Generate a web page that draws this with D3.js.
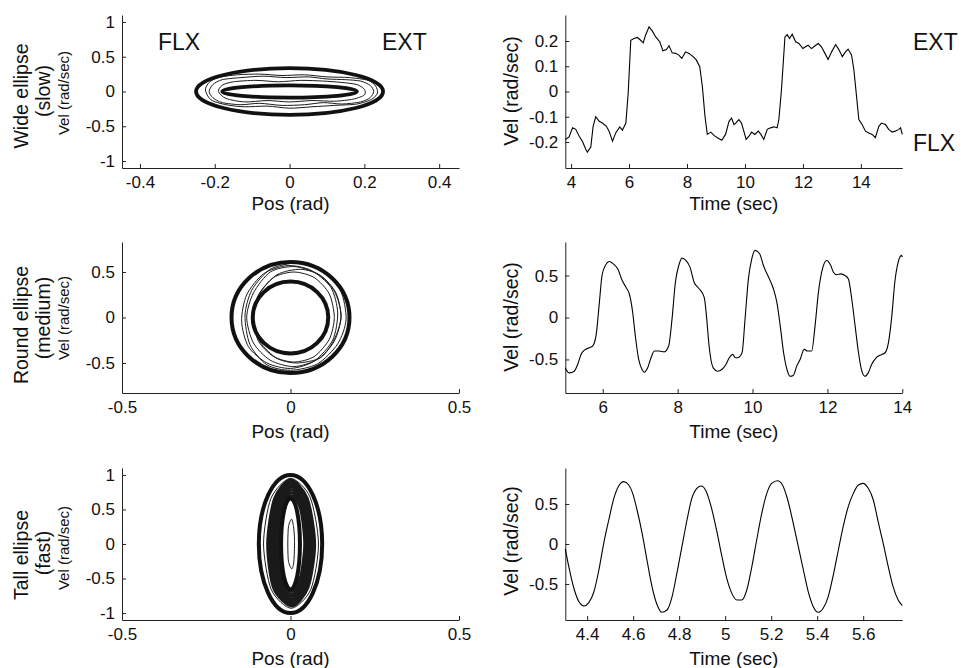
<!DOCTYPE html>
<html>
<head>
<meta charset="utf-8">
<script src="https://cdn.jsdelivr.net/npm/d3@7/dist/d3.min.js"></script>
<style>
  body { margin: 0; background: #fff; }
  text { font-family: "Liberation Sans", Arial, Helvetica, sans-serif; fill: #111; }
</style>
</head>
<body>
<div id="chart"></div>
<script>
// ---- data ----

// target ellipses (half-widths in pos, half-heights in vel)
var wideTargets  = [{rx: 0.25, ry: 0.335}, {rx: 0.18, ry: 0.088}];
var roundTargets = [{rx: 0.175, ry: 0.61}, {rx: 0.112, ry: 0.395}];
var tallTargets  = [{rx: 0.094, ry: 1.0}, {rx: 0.028, ry: 0.66}];

// recorded pos/vel loops
var wideLoops = [
  [[-0.215,0.0],[-0.205,0.1],[-0.18,0.17],[-0.13,0.2],[-0.07,0.22],[-0.01,0.2],[0.05,0.21],[0.1,0.18],[0.15,0.17],[0.19,0.15],[0.215,0.09],[0.225,0.0],[0.215,-0.09],[0.19,-0.15],[0.14,-0.18],[0.09,-0.16],[0.04,-0.19],[-0.02,-0.2],[-0.08,-0.17],[-0.13,-0.19],[-0.18,-0.16],[-0.205,-0.09]],
  [[-0.225,0.02],[-0.215,0.13],[-0.19,0.2],[-0.14,0.24],[-0.08,0.25],[-0.02,0.23],[0.04,0.24],[0.1,0.21],[0.16,0.2],[0.21,0.16],[0.23,0.08],[0.235,-0.02],[0.22,-0.11],[0.18,-0.18],[0.12,-0.2],[0.06,-0.22],[0.0,-0.24],[-0.06,-0.21],[-0.12,-0.22],[-0.17,-0.19],[-0.21,-0.12]],
  [[-0.19,0.0],[-0.18,0.09],[-0.15,0.14],[-0.09,0.16],[-0.03,0.14],[0.03,0.16],[0.09,0.15],[0.14,0.13],[0.18,0.1],[0.2,0.03],[0.2,-0.05],[0.17,-0.11],[0.12,-0.14],[0.06,-0.13],[0.0,-0.15],[-0.06,-0.13],[-0.12,-0.15],[-0.17,-0.1]]
];

var roundLoops = [
  [[0.15,0.02],[0.13,0.29],[0.08,0.48],[0.01,0.56],[-0.06,0.5],[-0.11,0.27],[-0.13,0.0],[-0.11,-0.28],[-0.06,-0.47],[0.01,-0.54],[0.08,-0.46],[0.13,-0.26]],
  [[0.165,-0.02],[0.148,0.3],[0.09,0.52],[0.02,0.6],[-0.06,0.53],[-0.115,0.3],[-0.135,0.02],[-0.12,-0.3],[-0.07,-0.52],[0.0,-0.58],[0.08,-0.51],[0.14,-0.29]],
  [[0.15,0.0],[0.135,0.27],[0.09,0.46],[0.03,0.53],[-0.04,0.47],[-0.095,0.25],[-0.11,-0.02],[-0.09,-0.27],[-0.04,-0.45],[0.02,-0.5],[0.09,-0.44],[0.13,-0.24]],
  [[0.14,0.05],[0.12,0.33],[0.06,0.52],[-0.01,0.57],[-0.08,0.48],[-0.13,0.25],[-0.145,-0.04],[-0.125,-0.32],[-0.07,-0.5],[0.0,-0.56],[0.07,-0.48],[0.125,-0.25]],
  [[0.13,0.0],[0.115,0.26],[0.07,0.44],[0.01,0.5],[-0.05,0.44],[-0.095,0.24],[-0.11,-0.01],[-0.095,-0.26],[-0.05,-0.43],[0.01,-0.49],[0.07,-0.43],[0.115,-0.24]]
];

var tallLoops = [
  [[0.072,0],[0.05,0.66],[0.0,0.93],[-0.048,0.65],[-0.068,0],[-0.05,-0.64],[0.004,-0.9],[0.052,-0.63]],
  [[0.068,0.02],[0.047,0.64],[0.002,0.9],[-0.044,0.62],[-0.062,-0.02],[-0.045,-0.62],[0.004,-0.87],[0.048,-0.6]],
  [[0.063,0],[0.044,0.62],[0.0,0.88],[-0.04,0.6],[-0.057,0],[-0.04,-0.6],[0.003,-0.85],[0.045,-0.6]],
  [[0.058,-0.02],[0.04,0.6],[0.002,0.85],[-0.036,0.58],[-0.052,0.02],[-0.036,-0.58],[0.004,-0.83],[0.042,-0.58]],
  [[0.054,0],[0.038,0.58],[0.003,0.82],[-0.032,0.56],[-0.046,0],[-0.033,-0.56],[0.004,-0.8],[0.038,-0.56]],
  [[0.05,0.01],[0.035,0.55],[0.003,0.78],[-0.028,0.54],[-0.04,0],[-0.028,-0.54],[0.004,-0.76],[0.036,-0.53]],
  [[0.046,0],[0.033,0.52],[0.003,0.74],[-0.024,0.51],[-0.035,0],[-0.024,-0.5],[0.004,-0.72],[0.033,-0.5]],
  [[0.042,0],[0.03,0.5],[0.003,0.7],[-0.02,0.48],[-0.03,0],[-0.02,-0.48],[0.005,-0.68],[0.03,-0.47]]
];
var tallOuterLoop = [[0.083,0],[0.058,0.68],[0.0,0.95],[-0.058,0.66],[-0.08,0],[-0.057,-0.66],[0.002,-0.93],[0.06,-0.66]];
var tallInnerLoop = [[0.012,0.05],[0.009,0.25],[0.003,0.36],[-0.006,0.25],[-0.008,0],[-0.006,-0.25],[0.004,-0.36],[0.01,-0.25]];

// velocity vs time [sec, rad/sec]
var slowTrace = [[3.8,-0.19],[3.93,-0.18],[4.05,-0.144],[4.16,-0.15],[4.28,-0.177],[4.39,-0.197],[4.51,-0.23],[4.56,-0.24],[4.68,-0.22],[4.76,-0.138],[4.85,-0.1],[4.97,-0.118],[5.08,-0.125],[5.22,-0.138],[5.31,-0.157],[5.43,-0.197],[5.54,-0.164],[5.68,-0.14],[5.77,-0.153],[5.89,-0.125],[5.97,-0.007],[6.06,0.203],[6.17,0.21],[6.29,0.214],[6.4,0.203],[6.49,0.193],[6.57,0.223],[6.69,0.256],[6.8,0.24],[6.92,0.216],[7.06,0.197],[7.17,0.161],[7.29,0.166],[7.38,0.181],[7.49,0.153],[7.61,0.151],[7.72,0.144],[7.82,0.131],[7.95,0.157],[8.07,0.151],[8.21,0.138],[8.32,0.125],[8.44,0.098],[8.53,0.02],[8.62,-0.098],[8.7,-0.17],[8.82,-0.161],[8.93,-0.174],[9.05,-0.183],[9.2,-0.193],[9.33,-0.17],[9.45,-0.118],[9.54,-0.105],[9.62,-0.131],[9.68,-0.125],[9.79,-0.111],[9.88,-0.125],[9.96,-0.157],[10.04,-0.19],[10.14,-0.177],[10.23,-0.161],[10.34,-0.17],[10.46,-0.157],[10.55,-0.17],[10.65,-0.19],[10.77,-0.15],[10.88,-0.144],[11.0,-0.14],[11.11,-0.144],[11.17,-0.111],[11.26,0.007],[11.38,0.216],[11.46,0.225],[11.54,0.21],[11.63,0.227],[11.75,0.197],[11.86,0.19],[12.0,0.17],[12.09,0.177],[12.18,0.183],[12.3,0.17],[12.41,0.18],[12.53,0.19],[12.64,0.177],[12.76,0.151],[12.87,0.127],[12.99,0.157],[13.13,0.186],[13.24,0.166],[13.36,0.138],[13.47,0.157],[13.56,0.168],[13.68,0.144],[13.76,0.085],[13.84,-0.007],[13.93,-0.111],[14.04,-0.131],[14.16,-0.157],[14.27,-0.164],[14.39,-0.17],[14.5,-0.183],[14.62,-0.138],[14.71,-0.125],[14.85,-0.131],[14.96,-0.15],[15.08,-0.161],[15.19,-0.157],[15.31,-0.15],[15.37,-0.144],[15.43,-0.17]];

var mediumTrace = [[5.0,-0.6],[5.02,-0.62],[5.11,-0.66],[5.24,-0.64],[5.33,-0.56],[5.42,-0.44],[5.51,-0.39],[5.64,-0.36],[5.73,-0.34],[5.82,-0.22],[5.91,0.18],[5.98,0.5],[6.07,0.62],[6.18,0.668],[6.28,0.64],[6.4,0.58],[6.52,0.44],[6.62,0.36],[6.71,0.28],[6.8,0.06],[6.87,-0.22],[6.96,-0.5],[7.05,-0.62],[7.11,-0.652],[7.2,-0.6],[7.29,-0.48],[7.38,-0.4],[7.51,-0.4],[7.64,-0.41],[7.76,-0.34],[7.85,-0.02],[7.94,0.42],[8.03,0.62],[8.12,0.708],[8.22,0.68],[8.33,0.6],[8.44,0.42],[8.58,0.34],[8.71,0.24],[8.77,0.02],[8.84,-0.34],[8.95,-0.6],[9.07,-0.64],[9.18,-0.62],[9.29,-0.56],[9.38,-0.48],[9.47,-0.44],[9.54,-0.48],[9.6,-0.48],[9.72,-0.42],[9.8,-0.02],[9.89,0.46],[9.98,0.7],[10.07,0.8],[10.19,0.76],[10.29,0.62],[10.43,0.48],[10.56,0.34],[10.65,0.18],[10.74,-0.1],[10.83,-0.42],[10.92,-0.62],[11.0,-0.7],[11.09,-0.69],[11.18,-0.58],[11.27,-0.5],[11.38,-0.38],[11.47,-0.4],[11.58,-0.4],[11.67,-0.1],[11.76,0.3],[11.88,0.6],[11.98,0.68],[12.09,0.62],[12.16,0.54],[12.25,0.51],[12.36,0.52],[12.47,0.5],[12.56,0.46],[12.65,0.22],[12.74,-0.1],[12.83,-0.42],[12.92,-0.64],[13.0,-0.7],[13.09,-0.66],[13.18,-0.56],[13.3,-0.48],[13.4,-0.45],[13.54,-0.42],[13.63,-0.3],[13.72,0.02],[13.8,0.42],[13.89,0.66],[13.98,0.74],[14.0,0.72]];

var fastTrace = [[4.305,-0.06],[4.32,-0.28],[4.342,-0.55],[4.364,-0.72],[4.386,-0.775],[4.407,-0.733],[4.429,-0.6],[4.451,-0.325],[4.472,0.008],[4.494,0.3],[4.516,0.57],[4.537,0.725],[4.559,0.78],[4.581,0.737],[4.598,0.633],[4.617,0.425],[4.639,0.133],[4.66,-0.2],[4.682,-0.533],[4.704,-0.76],[4.725,-0.854],[4.747,-0.825],[4.769,-0.66],[4.79,-0.367],[4.812,-0.033],[4.834,0.3],[4.855,0.57],[4.877,0.696],[4.896,0.725],[4.916,0.667],[4.939,0.467],[4.964,0.154],[4.986,-0.158],[5.007,-0.43],[5.029,-0.617],[5.051,-0.7],[5.072,-0.7],[5.094,-0.575],[5.116,-0.283],[5.137,0.05],[5.159,0.383],[5.181,0.633],[5.202,0.758],[5.228,0.79],[5.249,0.737],[5.272,0.55],[5.296,0.258],[5.318,-0.033],[5.34,-0.325],[5.361,-0.595],[5.383,-0.783],[5.405,-0.854],[5.426,-0.804],[5.448,-0.658],[5.47,-0.388],[5.492,-0.075],[5.513,0.217],[5.535,0.467],[5.557,0.633],[5.579,0.738],[5.6,0.758],[5.622,0.696],[5.644,0.55],[5.665,0.279],[5.687,0.008],[5.709,-0.283],[5.73,-0.533],[5.752,-0.7],[5.77,-0.77]];

// tick values
var wideXTicks = [-0.4, -0.2, 0, 0.2, 0.4];
var wideYTicks = [-1, -0.5, 0, 0.5, 1];
var halfXTicks = [-0.5, 0, 0.5];
var halfYTicks = [-0.5, 0, 0.5];
var slowYTicks = [-0.2, -0.1, 0, 0.1, 0.2];
var slowXTicks = [4, 6, 8, 10, 12, 14];
var mediumXTicks = [6, 8, 10, 12, 14];
var fastXTicks = [4.4, 4.6, 4.8, 5, 5.2, 5.4, 5.6];

// ---- layout ----
var svg = d3.select("#chart").append("svg")
    .attr("width", 963)
    .attr("height", 668);

var cols = [[122, 459], [565.3, 902.3]];
var rows = [[15, 168], [242, 393], [468, 620]];
var xLabelBase = [210, 438, 665];

function makePanel(col, row, xDom, yDom, xTicks, yTicks, xLabel) {
  var x = d3.scaleLinear().domain(xDom).range(cols[col]);
  var y = d3.scaleLinear().domain(yDom).range([rows[row][1], rows[row][0]]);
  var g = svg.append("g");
  var fmt = function(d) { return String(d); };

  var ax = g.append("g")
      .attr("transform", "translate(0," + rows[row][1] + ")")
      .call(d3.axisBottom(x).tickValues(xTicks).tickFormat(fmt)
        .tickSizeInner(-4).tickSizeOuter(0).tickPadding(8));
  var ay = g.append("g")
      .attr("transform", "translate(" + cols[col][0] + ",0)")
      .call(d3.axisLeft(y).tickValues(yTicks).tickFormat(fmt)
        .tickSizeInner(-4).tickSizeOuter(0).tickPadding(7));
  [ax, ay].forEach(function(a) {
    a.selectAll("path, line").attr("stroke", "#222").attr("stroke-width", 1);
    a.selectAll("text").style("font-size", "17px").attr("fill", "#111")
      .style("font-family", "'Liberation Sans', Arial, sans-serif");
  });

  g.append("text")
      .attr("x", (cols[col][0] + cols[col][1]) / 2)
      .attr("y", xLabelBase[row])
      .attr("text-anchor", "middle")
      .style("font-size", "19px")
      .text(xLabel);

  return {g: g, x: x, y: y};
}

function drawTargets(p, targets, width) {
  p.g.selectAll(null)
    .data(targets)
    .enter().append("ellipse")
      .attr("cx", p.x(0))
      .attr("cy", p.y(0))
      .attr("rx", function(d) { return p.x(d.rx) - p.x(0); })
      .attr("ry", function(d) { return p.y(0) - p.y(d.ry); })
      .attr("fill", "none")
      .attr("stroke", "#111")
      .attr("stroke-width", width);
}

function drawLoops(p, loops, width) {
  var line = d3.line()
      .x(function(d) { return p.x(d[0]); })
      .y(function(d) { return p.y(d[1]); })
      .curve(d3.curveCardinalClosed.tension(0.2));
  p.g.selectAll(null)
    .data(loops)
    .enter().append("path")
      .attr("d", line)
      .attr("fill", "none")
      .attr("stroke", "#1a1a1a")
      .attr("stroke-width", width);
}

function drawTrace(p, trace, curve) {
  var line = d3.line()
      .x(function(d) { return p.x(d[0]); })
      .y(function(d) { return p.y(d[1]); })
      .curve(curve || d3.curveLinear);
  p.g.append("path")
      .datum(trace)
      .attr("d", line)
      .attr("fill", "none")
      .attr("stroke", "#000")
      .attr("stroke-width", 1.1);
}

function bigText(x, y, s, size, anchor) {
  svg.append("text")
    .attr("x", x).attr("y", y)
    .attr("text-anchor", anchor || "start")
    .style("font-size", size + "px")
    .text(s);
}

function vText(x, y, s, size) {
  svg.append("text")
    .attr("transform", "translate(" + x + "," + y + ") rotate(-90)")
    .attr("text-anchor", "middle")
    .style("font-size", size + "px")
    .text(s);
}

// row 1: slow
var p1 = makePanel(0, 0, [-0.448, 0.453], [-1.1, 1.1], wideXTicks, wideYTicks, "Pos (rad)");
drawLoops(p1, wideLoops, 1);
drawTargets(p1, wideTargets, 3.8);
bigText(158, 50, "FLX", 23);
bigText(382, 50, "EXT", 23);

var p2 = makePanel(1, 0, [3.8, 15.43], [-0.303, 0.303], slowXTicks, slowYTicks, "Time (sec)");
drawTrace(p2, slowTrace);
bigText(913, 50, "EXT", 23);
bigText(913, 151, "FLX", 23);

// row 2: medium
var p3 = makePanel(0, 1, [-0.5, 0.5], [-0.83, 0.83], halfXTicks, halfYTicks, "Pos (rad)");
drawLoops(p3, roundLoops, 1);
drawTargets(p3, roundTargets, 4);

var p4 = makePanel(1, 1, [5, 14], [-0.9, 0.9], mediumXTicks, halfYTicks, "Time (sec)");
drawTrace(p4, mediumTrace, d3.curveMonotoneX);

// row 3: fast
var p5 = makePanel(0, 2, [-0.5, 0.5], [-1.1, 1.1], halfXTicks, wideYTicks, "Pos (rad)");
drawLoops(p5, tallLoops, 2.8);
drawLoops(p5, [tallOuterLoop, tallInnerLoop], 1);
drawTargets(p5, tallTargets, 4);

var p6 = makePanel(1, 2, [4.305, 5.77], [-0.95, 0.95], fastXTicks, halfYTicks, "Time (sec)");
drawTrace(p6, fastTrace, d3.curveMonotoneX);

// row labels (left) and velocity labels
vText(28, 96, "Wide ellipse", 19.5);
vText(50, 91, "(slow)", 19.5);
vText(68.5, 93, "Vel (rad/sec)", 15);
vText(28, 325, "Round ellipse", 19.5);
vText(50, 318, "(medium)", 19.5);
vText(68.5, 318, "Vel (rad/sec)", 15);
vText(28, 555, "Tall ellipse", 19.5);
vText(50, 553, "(fast)", 19.5);
vText(68.5, 548, "Vel (rad/sec)", 15);

vText(517.5, 91, "Vel (rad/sec)", 19.5);
vText(517.5, 317, "Vel (rad/sec)", 19.5);
vText(517.5, 541, "Vel (rad/sec)", 19.5);
</script>
</body>
</html>
